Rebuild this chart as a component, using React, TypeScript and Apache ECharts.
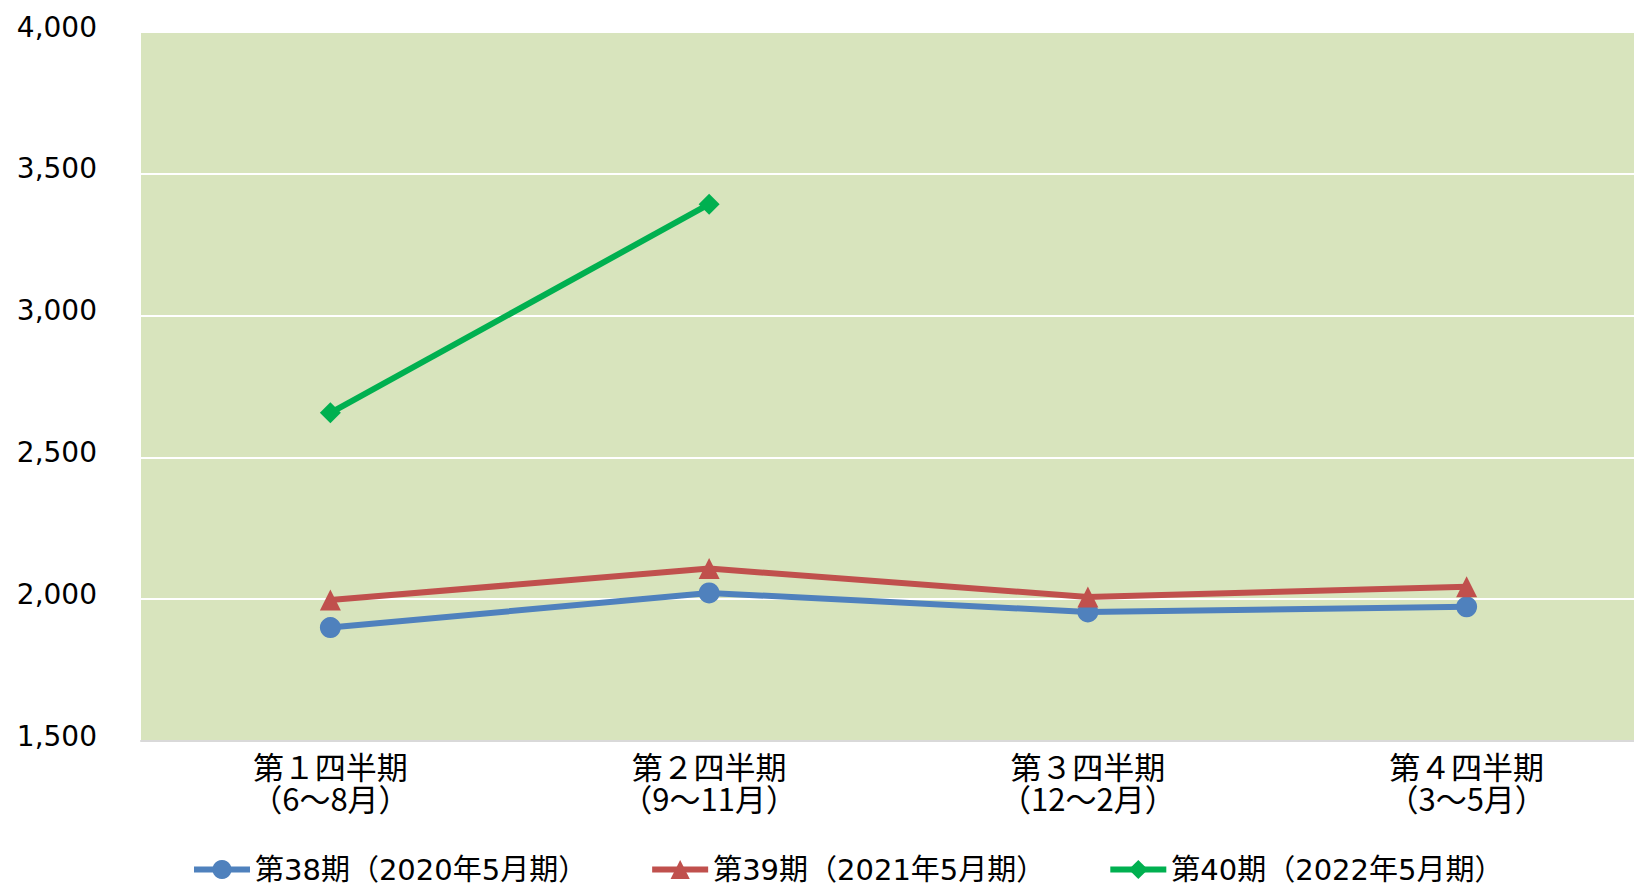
import React, { useEffect, useRef } from "react";
import * as echarts from "echarts";

// Quarter categories (two-line labels)
const quarters = [
  "第１四半期\n（6～8月）",
  "第２四半期\n（9～11月）",
  "第３四半期\n（12～2月）",
  "第４四半期\n（3～5月）",
];

const seriesNames = [
  "第38期（2020年5月期）",
  "第39期（2021年5月期）",
  "第40期（2022年5月期）",
];

// Quarterly values per fiscal period
const term38 = [1900, 2022, 1955, 1973];
const term39 = [1997, 2108, 2008, 2044];
const term40: (number | string)[] = [2657, 3393, "-", "-"];

const yMin = 1500;
const yMax = 4000;
const yStep = 500;

const colors = ["#4F81BD", "#C0504D", "#00B050"];
const symbols = ["circle", "triangle", "diamond"];

const latinFont = "'DejaVu Sans', 'Noto Sans CJK JP', sans-serif";
const jpFont = "'Noto Sans CJK JP', 'DejaVu Sans', sans-serif";

// The plot area runs past the right edge of the visible frame
const frameW = 1634;
const frameH = 884;
const canvasW = 1660;

export default function App() {
  const ref = useRef<HTMLDivElement>(null);

  useEffect(() => {
    if (!ref.current) return;
    const chart = echarts.init(ref.current, null, { renderer: "svg" });
    const data = [term38, term39, term40];
    chart.setOption({
      animation: false,
      backgroundColor: "#ffffff",
      grid: {
        left: 141,
        top: 32,
        width: 1515,
        height: 709,
        show: true,
        backgroundColor: "#D8E4BD",
        borderWidth: 0,
      },
      legend: {
        left: 186,
        top: 850,
        itemWidth: 56,
        itemHeight: 24,
        itemGap: 62,
        lineStyle: { width: 6 },
        textStyle: {
          fontFamily: latinFont,
          fontSize: 29,
          color: "#000000",
        },
        data: seriesNames,
      },
      xAxis: {
        type: "category",
        data: quarters,
        boundaryGap: true,
        axisLine: { show: true, lineStyle: { color: "#D9D9D9", width: 2 } },
        axisTick: { show: false },
        axisLabel: {
          fontFamily: jpFont,
          fontSize: 31,
          lineHeight: 32,
          color: "#000000",
          margin: 8,
          interval: 0,
        },
        splitLine: { show: false },
      },
      yAxis: {
        type: "value",
        min: yMin,
        max: yMax,
        interval: yStep,
        axisLine: { show: false },
        axisTick: { show: false },
        axisLabel: {
          fontFamily: latinFont,
          fontSize: 28,
          color: "#000000",
          margin: 44,
          verticalAlign: "bottom",
          lineHeight: 10,
          formatter: (v: number) => v.toLocaleString("en-US"),
        },
        splitLine: { show: true, lineStyle: { color: "#FFFFFF", width: 2 } },
      },
      series: seriesNames.map((name, i) => ({
        name,
        type: "line",
        data: data[i],
        symbol: symbols[i],
        symbolSize: 21,
        connectNulls: false,
        lineStyle: { color: colors[i], width: 6 },
        itemStyle: { color: colors[i] },
        z: 3 + i,
      })),
    });
    return () => chart.dispose();
  }, []);

  return (
    <div
      style={{
        position: "absolute",
        left: 0,
        top: 0,
        width: frameW,
        height: frameH,
        overflow: "hidden",
        background: "#ffffff",
      }}
    >
      <div ref={ref} style={{ width: canvasW, height: frameH }} />
    </div>
  );
}
